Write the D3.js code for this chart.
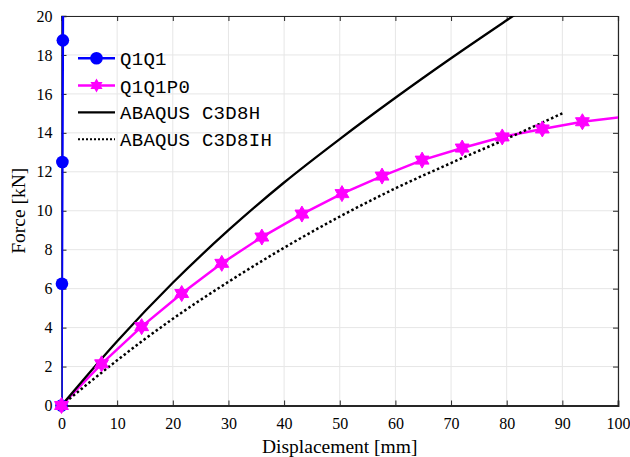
<!DOCTYPE html>
<html><head><meta charset="utf-8">
<script src="https://cdn.jsdelivr.net/npm/d3@7"></script>
<style>body{margin:0;background:#fff}svg{display:block}</style>
</head><body>
<script>
const q1q1X = [0, 0.08, 0.16, 0.24, 0.32];
const q1q1Y = [0, 6.25, 12.5, 18.75, 25];
const q1q1p0X = [0, 7.2, 14.4, 21.6, 28.8, 36, 43.2, 50.4, 57.6, 64.8, 72, 79.2, 86.4, 93.6, 100.8];
const q1q1p0Y = [0, 2.14, 4.05, 5.75, 7.3, 8.65, 9.83, 10.88, 11.78, 12.6, 13.22, 13.79, 14.2, 14.57, 14.82];
const c3d8hX = [0, 10, 20, 30, 40, 50, 60, 70, 80, 84];
const c3d8hY = [0, 3.3, 6.3, 9.0, 11.45, 13.68, 15.8, 17.83, 19.78, 20.55];
const c3d8ihX = [0, 5, 10, 20, 30, 40, 50, 60, 70, 80, 90];
const c3d8ihY = [0, 1.18, 2.32, 4.45, 6.35, 8.1, 9.7, 11.15, 12.45, 13.7, 15.0];
const xTicks = [0,10,20,30,40,50,60,70,80,90,100];
const yTicks = [0,2,4,6,8,10,12,14,16,18,20];
const legendLabels = ["Q1Q1", "Q1Q1P0", "ABAQUS C3D8H", "ABAQUS C3D8IH"];

const W = 630, H = 457;
const L = 61.5, R = 618, T = 16, B = 405.5;
const svg = d3.select("body").append("svg").attr("width", W).attr("height", H);
const x = d3.scaleLinear().domain([0,100]).range([L,R]);
const y = d3.scaleLinear().domain([0,20]).range([B,T]);
const serif = "'Liberation Serif','Times New Roman',serif";
const mono = "'Liberation Mono','DejaVu Sans Mono',monospace";

svg.append("defs").append("clipPath").attr("id","clip")
  .append("rect").attr("x",L).attr("y",T).attr("width",R-L).attr("height",B-T);

// grid
const g = svg.append("g");
g.selectAll(".gx").data(xTicks).enter().append("line")
  .attr("x1",d=>x(d)).attr("x2",d=>x(d)).attr("y1",T).attr("y2",B)
  .attr("stroke","#e6e6e6").attr("stroke-width",1);
g.selectAll(".gy").data(yTicks).enter().append("line")
  .attr("y1",d=>y(d)).attr("y2",d=>y(d)).attr("x1",L).attr("x2",R)
  .attr("stroke","#e6e6e6").attr("stroke-width",1);

// axes
const axCol = "#262626";
const xb = svg.append("g").attr("transform",`translate(0,${B})`)
  .call(d3.axisBottom(x).tickValues(xTicks).tickSize(-5).tickPadding(12));
const xt = svg.append("g").attr("transform",`translate(0,${T})`)
  .call(d3.axisTop(x).tickValues(xTicks).tickSize(-5).tickFormat(""));
const yl = svg.append("g").attr("transform",`translate(${L},0)`)
  .call(d3.axisLeft(y).tickValues(yTicks).tickSize(-5).tickPadding(9));
const yr = svg.append("g").attr("transform",`translate(${R},0)`)
  .call(d3.axisRight(y).tickValues(yTicks).tickSize(-5).tickFormat(""));
[xb,xt,yl,yr].forEach(a=>{
  a.selectAll("path").attr("stroke",axCol).attr("stroke-width",1.2);
  a.selectAll("line").attr("stroke",axCol).attr("stroke-width",1);
  a.selectAll("text").attr("fill","#000").attr("font-family",serif).attr("font-size",16);
});
xb.selectAll("path").attr("stroke-width",1.8);
yl.selectAll("path").attr("stroke-width",1.5);

// axis labels
svg.append("text").attr("x",(L+R)/2).attr("y",453).attr("text-anchor","middle")
  .attr("font-family",serif).attr("font-size",19.5).text("Displacement [mm]");
svg.append("text").attr("transform",`translate(25,${(T+B)/2}) rotate(-90)`).attr("text-anchor","middle")
  .attr("font-family",serif).attr("font-size",19.5).text("Force [kN]");

const line = d3.line().x(d=>x(d[0])).y(d=>y(d[1]));
const smooth = d3.line().x(d=>x(d[0])).y(d=>y(d[1])).curve(d3.curveMonotoneX);
const plot = svg.append("g");
const clipped = plot.append("g").attr("clip-path","url(#clip)");

function hexagram(r){
  const pts=[];
  for(let i=0;i<12;i++){
    const a = -Math.PI/2 + i*Math.PI/6;
    const rr = i%2===0 ? r : r/Math.sqrt(3);
    pts.push([rr*Math.cos(a), rr*Math.sin(a)]);
  }
  return "M"+pts.map(p=>p[0].toFixed(2)+","+p[1].toFixed(2)).join("L")+"Z";
}

// Q1Q1
const d1 = q1q1X.map((v,i)=>[v,q1q1Y[i]]);
clipped.append("path").datum(d1).attr("d",line).attr("fill","none").attr("stroke","#0000ff").attr("stroke-width",2.5);
plot.selectAll(".m1").data(d1.filter(d=>d[1]<=20)).enter().append("circle")
  .attr("cx",d=>x(d[0])).attr("cy",d=>y(d[1])).attr("r",6.3).attr("fill","#0000ff");

// Q1Q1P0
const d2 = q1q1p0X.map((v,i)=>[v,q1q1p0Y[i]]);
clipped.append("path").datum(d2).attr("d",line).attr("fill","none").attr("stroke","#ff00ff").attr("stroke-width",2.5);
plot.selectAll(".m2").data(d2.filter(d=>d[0]<=100)).enter().append("path")
  .attr("transform",d=>`translate(${x(d[0])},${y(d[1])})`)
  .attr("d",hexagram(8)).attr("fill","#ff00ff").attr("stroke","#ff00ff").attr("stroke-width",1);

// ABAQUS C3D8H
const d3h = c3d8hX.map((v,i)=>[v,c3d8hY[i]]);
clipped.append("path").datum(d3h).attr("d",smooth).attr("fill","none").attr("stroke","#000").attr("stroke-width",2.3);
// ABAQUS C3D8IH
const d4 = c3d8ihX.map((v,i)=>[v,c3d8ihY[i]]);
clipped.append("path").datum(d4).attr("d",smooth).attr("fill","none").attr("stroke","#000")
  .attr("stroke-width",2.5).attr("stroke-dasharray","2.5,2.5");

// legend
const lg = svg.append("g");
const rowsY = [58.3, 85.5, 112.3, 139.3];
const styles = [
  {c:"#0000ff", w:2.5, dash:null, m:"circle"},
  {c:"#ff00ff", w:2.5, dash:null, m:"star"},
  {c:"#000", w:2.3, dash:null, m:null},
  {c:"#000", w:2, dash:"2,2", m:null}
];
legendLabels.forEach((lab,i)=>{
  const s = styles[i], yy = rowsY[i];
  const ln = lg.append("line").attr("x1",78).attr("x2",115).attr("y1",yy).attr("y2",yy)
    .attr("stroke",s.c).attr("stroke-width",s.w);
  if(s.dash) ln.attr("stroke-dasharray",s.dash);
  if(s.m==="circle") lg.append("circle").attr("cx",96.5).attr("cy",yy).attr("r",6.3).attr("fill",s.c);
  if(s.m==="star") lg.append("path").attr("transform",`translate(96.5,${yy})`).attr("d",hexagram(7)).attr("fill",s.c);
  lg.append("text").attr("x",120).attr("y",yy+7).attr("font-family",mono).attr("font-size",19)
    .attr("letter-spacing",0.3).text(lab);
});
</script>
</body></html>
